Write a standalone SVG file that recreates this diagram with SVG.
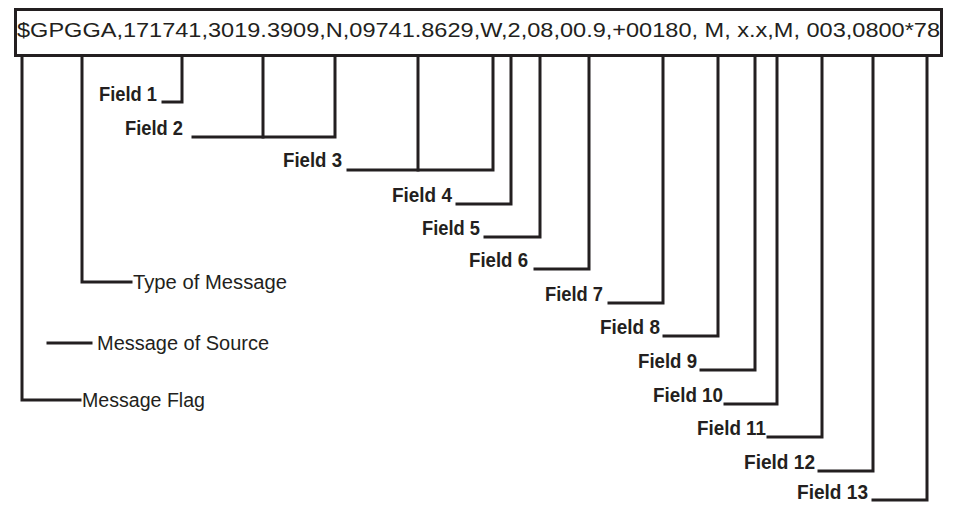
<svg xmlns="http://www.w3.org/2000/svg" width="956" height="505" viewBox="0 0 956 505">
<style>
.ln{fill:none;stroke:#231f20;stroke-width:3;stroke-linecap:square;stroke-linejoin:miter}
.fl{font-family:"Liberation Sans",Arial,sans-serif;font-weight:bold;font-size:21px;fill:#231f20;text-anchor:end}
.tx{font-family:"Liberation Sans",Arial,sans-serif;font-size:20px;fill:#231f20}
</style>
<rect width="956" height="505" fill="#fff"/>
<g id="sentence">
<rect x="15.5" y="9.5" width="926" height="46" fill="#fff" stroke="#231f20" stroke-width="3"/>
<text class="tx" x="17" y="37" font-size="18.5" textLength="923" lengthAdjust="spacingAndGlyphs">$GPGGA,171741,3019.3909,N,09741.8629,W,2,08,00.9,+00180, M, x.x,M, 003,0800*78</text>
</g>
<g id="connectors">
<path class="ln" d="M22,57 V400 H80"/>
<path class="ln" d="M82,57 V282 H131"/>
<path class="ln" d="M48,343 H91"/>
<path class="ln" d="M182,57 V102 H163"/>
<path class="ln" d="M263,57 V137"/>
<path class="ln" d="M335,57 V137 H193"/>
<path class="ln" d="M418,57 V170"/>
<path class="ln" d="M493,57 V170 H348"/>
<path class="ln" d="M511,57 V204 H457"/>
<path class="ln" d="M540,57 V237 H485"/>
<path class="ln" d="M589,57 V269 H535"/>
<path class="ln" d="M663,57 V303 H609"/>
<path class="ln" d="M718,57 V336 H664"/>
<path class="ln" d="M755,57 V370 H701"/>
<path class="ln" d="M777,57 V404 H725"/>
<path class="ln" d="M822,57 V437 H768"/>
<path class="ln" d="M873,57 V471 H819"/>
<path class="ln" d="M927,57 V500 H873"/>
</g>
<g id="message-flag"><text class="tx" x="82" y="407" textLength="123" lengthAdjust="spacingAndGlyphs">Message Flag</text></g>
<g id="type-of-message"><text class="tx" x="133" y="289" textLength="154" lengthAdjust="spacingAndGlyphs">Type of Message</text></g>
<g id="message-of-source"><text class="tx" x="97" y="350" textLength="172" lengthAdjust="spacingAndGlyphs">Message of Source</text></g>
<g id="field1"><text class="fl" x="157" y="101" textLength="58" lengthAdjust="spacingAndGlyphs">Field 1</text></g>
<g id="field2"><text class="fl" x="183" y="135" textLength="58" lengthAdjust="spacingAndGlyphs">Field 2</text></g>
<g id="field3"><text class="fl" x="342" y="167" textLength="59" lengthAdjust="spacingAndGlyphs">Field 3</text></g>
<g id="field4"><text class="fl" x="452" y="202" textLength="60" lengthAdjust="spacingAndGlyphs">Field 4</text></g>
<g id="field5"><text class="fl" x="480" y="235" textLength="58" lengthAdjust="spacingAndGlyphs">Field 5</text></g>
<g id="field6"><text class="fl" x="528" y="267" textLength="59" lengthAdjust="spacingAndGlyphs">Field 6</text></g>
<g id="field7"><text class="fl" x="603" y="301" textLength="58" lengthAdjust="spacingAndGlyphs">Field 7</text></g>
<g id="field8"><text class="fl" x="660" y="334" textLength="60" lengthAdjust="spacingAndGlyphs">Field 8</text></g>
<g id="field9"><text class="fl" x="697" y="368" textLength="59" lengthAdjust="spacingAndGlyphs">Field 9</text></g>
<g id="field10"><text class="fl" x="723" y="402" textLength="70" lengthAdjust="spacingAndGlyphs">Field 10</text></g>
<g id="field11"><text class="fl" x="766" y="435" textLength="69" lengthAdjust="spacingAndGlyphs">Field 11</text></g>
<g id="field12"><text class="fl" x="815" y="469" textLength="71" lengthAdjust="spacingAndGlyphs">Field 12</text></g>
<g id="field13"><text class="fl" x="868" y="499" textLength="71" lengthAdjust="spacingAndGlyphs">Field 13</text></g>
</svg>
